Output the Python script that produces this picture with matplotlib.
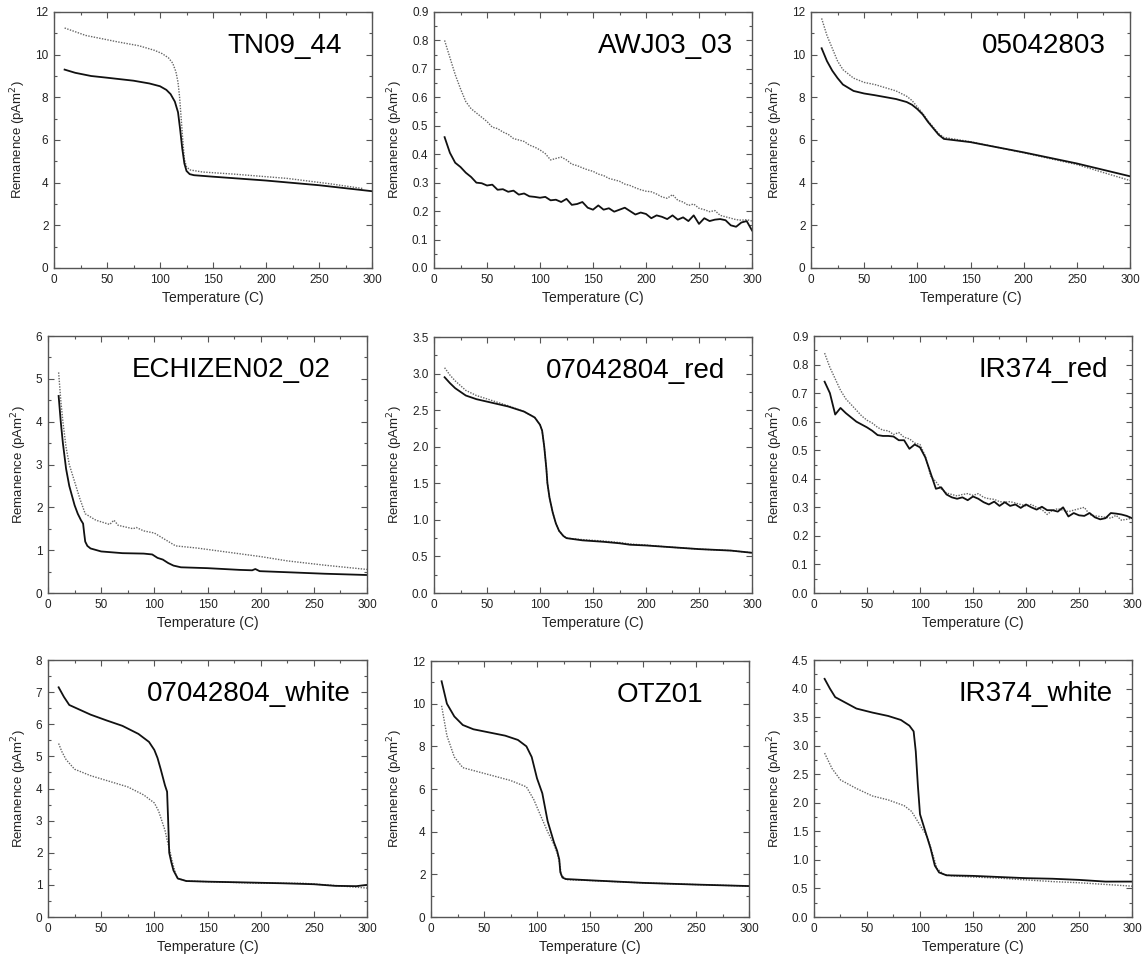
"""Remanence vs temperature curves for nine samples (3x3 grid)."""
import numpy as np
import matplotlib
matplotlib.use("Agg")
import matplotlib.pyplot as plt
from matplotlib.ticker import MultipleLocator

plt.rcParams["font.family"] = ["Liberation Sans", "DejaVu Sans"]

# ---------------- data: temperature (C) and remanence (pAm^2) ----------------
TN09_T_S = [10, 20, 35, 50, 75, 90, 100, 106, 110, 114, 117, 119, 121, 123, 125, 128, 132, 150, 200, 250, 300]
TN09_S = [9.3, 9.15, 9.0, 8.92, 8.78, 8.65, 8.52, 8.35, 8.15, 7.8, 7.3, 6.5, 5.6, 4.9, 4.55, 4.4, 4.35, 4.28, 4.1, 3.88, 3.6]
TN09_T_D = [10, 30, 60, 80, 95, 102, 108, 112, 115, 117, 118.5, 120, 121.5, 123, 125, 128, 140, 170, 220, 260, 292]
TN09_D = [11.25, 10.9, 10.6, 10.42, 10.2, 10.05, 9.85, 9.6, 9.2, 8.7, 8.0, 7.0, 6.0, 5.1, 4.75, 4.6, 4.5, 4.4, 4.2, 3.95, 3.72]

AWJ_T = list(range(10, 301, 5))
AWJ_S = [0.46, 0.405, 0.37, 0.355, 0.335, 0.32, 0.30, 0.298, 0.29, 0.293, 0.275, 0.277, 0.268,
         0.272, 0.258, 0.262, 0.252, 0.25, 0.247, 0.25, 0.238, 0.24, 0.232, 0.243, 0.222, 0.225,
         0.232, 0.212, 0.205, 0.22, 0.205, 0.21, 0.198, 0.205, 0.212, 0.2, 0.188, 0.195, 0.19,
         0.175, 0.185, 0.18, 0.172, 0.185, 0.17, 0.178, 0.165, 0.185, 0.155, 0.175, 0.165, 0.17,
         0.172, 0.168, 0.15, 0.145, 0.16, 0.165, 0.132]
AWJ_D = [0.80, 0.74, 0.68, 0.63, 0.585, 0.56, 0.545, 0.53, 0.515, 0.495, 0.49, 0.478, 0.47,
         0.455, 0.45, 0.445, 0.432, 0.425, 0.415, 0.402, 0.38, 0.385, 0.39, 0.38, 0.365, 0.36,
         0.352, 0.345, 0.34, 0.33, 0.325, 0.315, 0.31, 0.305, 0.295, 0.29, 0.282, 0.275, 0.27,
         0.268, 0.26, 0.25, 0.245, 0.258, 0.238, 0.232, 0.22, 0.225, 0.21, 0.205, 0.198, 0.202,
         0.185, 0.18, 0.175, 0.17, 0.168, 0.17, 0.165]

S0504_T = [10, 15, 20, 25, 30, 40, 50, 60, 80, 90, 95, 100, 105, 110, 115, 120, 125, 150, 200, 250, 300]
S0504_S = [10.3, 9.7, 9.25, 8.9, 8.6, 8.3, 8.18, 8.1, 7.92, 7.78, 7.65, 7.45, 7.2, 6.85, 6.55, 6.25, 6.05, 5.9, 5.42, 4.9, 4.3]
S0504_D = [11.7, 10.9, 10.3, 9.7, 9.3, 8.9, 8.7, 8.6, 8.3, 8.05, 7.85, 7.55, 7.25, 6.9, 6.6, 6.3, 6.12, 5.92, 5.4, 4.85, 4.1]

ECH_T_S = [10, 12, 14, 17, 20, 25, 28, 31, 33, 34, 35, 37, 40, 50, 70, 90, 98, 103, 108, 113, 118, 125, 150, 180, 192, 195, 199, 230, 260, 300]
ECH_S = [4.6, 4.0, 3.5, 2.9, 2.5, 2.05, 1.85, 1.7, 1.62, 1.4, 1.2, 1.1, 1.04, 0.97, 0.93, 0.92, 0.9, 0.82, 0.78, 0.7, 0.64, 0.6, 0.58, 0.54, 0.53, 0.56, 0.51, 0.48, 0.45, 0.42]
ECH_T_D = [10, 12, 14, 17, 20, 25, 30, 35, 45, 58, 62, 66, 80, 83, 90, 100, 110, 120, 140, 170, 200, 225, 260, 300]
ECH_D = [5.15, 4.5, 4.0, 3.4, 3.0, 2.6, 2.2, 1.85, 1.7, 1.6, 1.7, 1.58, 1.5, 1.53, 1.45, 1.4, 1.25, 1.1, 1.05, 0.95, 0.85, 0.75, 0.65, 0.55]

R0704_T = [10, 15, 20, 30, 40, 55, 70, 85, 95, 100, 102, 104, 106, 107, 109, 112, 115, 118, 122, 125, 140, 160, 175, 185, 200, 220, 250, 280, 300]
R0704_S = [2.95, 2.87, 2.8, 2.7, 2.65, 2.6, 2.55, 2.48, 2.4, 2.3, 2.22, 2.0, 1.7, 1.5, 1.3, 1.1, 0.95, 0.85, 0.78, 0.75, 0.72, 0.7, 0.68, 0.66, 0.65, 0.63, 0.6, 0.58, 0.55]
R0704_D = [3.08, 2.98, 2.9, 2.77, 2.7, 2.63, 2.56, 2.48, 2.4, 2.3, 2.22, 2.0, 1.7, 1.5, 1.3, 1.1, 0.95, 0.85, 0.78, 0.75, 0.73, 0.71, 0.69, 0.67, 0.655, 0.63, 0.6, 0.58, 0.55]

IRR_T = list(range(10, 301, 5))
IRR_S = [0.74, 0.70, 0.625, 0.648, 0.63, 0.615, 0.60, 0.59, 0.58, 0.568, 0.553, 0.55, 0.55,
         0.548, 0.535, 0.535, 0.505, 0.52, 0.51, 0.475, 0.42, 0.365, 0.37, 0.345, 0.335, 0.33,
         0.335, 0.325, 0.338, 0.33, 0.318, 0.31, 0.32, 0.305, 0.318, 0.305, 0.31, 0.298, 0.31,
         0.30, 0.292, 0.302, 0.29, 0.29, 0.285, 0.30, 0.268, 0.28, 0.272, 0.27, 0.28, 0.265,
         0.258, 0.262, 0.28, 0.278, 0.275, 0.27, 0.262]
IRR_D = [0.84, 0.79, 0.75, 0.71, 0.68, 0.66, 0.64, 0.62, 0.605, 0.595, 0.58, 0.57, 0.568,
         0.555, 0.562, 0.545, 0.54, 0.525, 0.52, 0.48, 0.41, 0.39, 0.365, 0.35, 0.345, 0.34,
         0.345, 0.348, 0.342, 0.348, 0.335, 0.33, 0.328, 0.32, 0.318, 0.32, 0.315, 0.31, 0.305,
         0.31, 0.30, 0.292, 0.275, 0.29, 0.295, 0.29, 0.285, 0.29, 0.295, 0.30, 0.275, 0.27,
         0.268, 0.265, 0.262, 0.272, 0.255, 0.258, 0.262]

W0704_T_S = [10, 15, 20, 30, 40, 55, 70, 85, 95, 100, 103, 106, 108, 110, 112, 113, 114, 116, 118, 122, 130, 150, 180, 220, 250, 270, 290, 300]
W0704_S = [7.15, 6.85, 6.6, 6.45, 6.3, 6.12, 5.95, 5.7, 5.45, 5.2, 4.95, 4.6, 4.35, 4.1, 3.9, 3.0, 2.0, 1.7, 1.45, 1.2, 1.12, 1.1, 1.08, 1.05, 1.02, 0.97, 0.96, 1.0]
W0704_T_D = [10, 13, 17, 25, 40, 55, 75, 90, 100, 104, 107, 110, 112, 115, 117, 120, 122, 130, 170, 200, 240, 270, 300]
W0704_D = [5.4, 5.15, 4.9, 4.6, 4.4, 4.25, 4.05, 3.8, 3.55, 3.3, 3.0, 2.7, 2.4, 2.0, 1.7, 1.35, 1.2, 1.12, 1.08, 1.05, 1.05, 0.98, 0.9]

OTZ_T_S = [10, 15, 22, 30, 40, 55, 70, 82, 90, 95, 100, 105, 110, 113, 116, 119, 121, 122, 124, 127, 150, 200, 250, 300]
OTZ_S = [11.05, 10.0, 9.4, 9.0, 8.8, 8.65, 8.5, 8.3, 8.0, 7.5, 6.5, 5.8, 4.5, 4.0, 3.5, 3.1, 2.7, 2.1, 1.85, 1.78, 1.72, 1.6, 1.52, 1.45]
OTZ_T_D = [10, 15, 22, 30, 45, 60, 75, 90, 97, 103, 110, 113, 116, 119, 121, 123, 128, 150, 200, 250, 300]
OTZ_D = [9.9, 8.5, 7.5, 7.0, 6.8, 6.6, 6.4, 6.1, 5.5, 4.8, 4.0, 3.7, 3.4, 3.0, 2.6, 1.95, 1.75, 1.71, 1.6, 1.52, 1.45]

IRW_T_S = [10, 15, 20, 30, 40, 55, 70, 82, 90, 94, 96, 98, 100, 105, 110, 114, 118, 125, 150, 175, 200, 225, 250, 275, 300]
IRW_S = [4.17, 4.0, 3.85, 3.75, 3.65, 3.58, 3.52, 3.45, 3.35, 3.25, 2.9, 2.3, 1.8, 1.5, 1.2, 0.9, 0.78, 0.73, 0.72, 0.7, 0.68, 0.67, 0.65, 0.62, 0.62]
IRW_T_D = [10, 17, 25, 40, 55, 70, 85, 92, 97, 102, 107, 112, 116, 122, 130, 150, 175, 200, 225, 250, 275, 300]
IRW_D = [2.87, 2.6, 2.4, 2.25, 2.12, 2.05, 1.95, 1.85, 1.7, 1.55, 1.4, 1.1, 0.85, 0.75, 0.72, 0.7, 0.68, 0.65, 0.62, 0.6, 0.57, 0.54]

NAMES = ["TN09_44", "AWJ03_03", "05042803",
         "ECHIZEN02_02", "07042804_red", "IR374_red",
         "07042804_white", "OTZ01", "IR374_white"]
CURVES = [(TN09_T_S, TN09_S, TN09_T_D, TN09_D),
          (AWJ_T, AWJ_S, AWJ_T, AWJ_D),
          (S0504_T, S0504_S, S0504_T, S0504_D),
          (ECH_T_S, ECH_S, ECH_T_D, ECH_D),
          (R0704_T, R0704_S, R0704_T, R0704_D),
          (IRR_T, IRR_S, IRR_T, IRR_D),
          (W0704_T_S, W0704_S, W0704_T_D, W0704_D),
          (OTZ_T_S, OTZ_S, OTZ_T_D, OTZ_D),
          (IRW_T_S, IRW_S, IRW_T_D, IRW_D)]
YMAX = [12, 0.9, 12, 6, 3.5, 0.9, 8, 12, 4.5]
YSTEP = [2, 0.1, 2, 1, 0.5, 0.1, 1, 2, 0.5]
YFMT = ["{:.0f}", "{:.1f}", "{:.0f}", "{:.0f}", "{:.1f}", "{:.1f}", "{:.0f}", "{:.0f}", "{:.1f}"]

# ---------------- layout (pixel boxes: left, right, top, bottom) ----------------
W, H = 1148, 963
BOXES = [(54, 372, 12, 268), (434, 752, 12, 268), (811, 1130, 12, 268),
         (48, 367, 336, 593), (434, 752, 337, 593), (814, 1132, 336, 593),
         (48, 367, 660, 917), (431, 749, 661, 917), (814, 1132, 660, 917)]
LABEL_X = [0.905, 0.94, 0.925, 0.885, 0.915, 0.925, 0.95, 0.855, 0.94]

fig = plt.figure(figsize=(W / 100, H / 100), dpi=100)
FRAME = "#555555"

for i, name in enumerate(NAMES):
    l, r, t, b = BOXES[i]
    ax = fig.add_axes([l / W, 1 - b / H, (r - l) / W, (b - t) / H])
    ts, ys, td, yd = CURVES[i]
    ax.plot(td, yd, color="0.4", lw=1.0, ls=(0, (1, 1)))
    ax.plot(ts, ys, color="#111111", lw=1.3)
    ax.set_xlim(0, 300)
    ax.set_ylim(0, YMAX[i])
    ax.xaxis.set_major_locator(MultipleLocator(50))
    ax.xaxis.set_minor_locator(MultipleLocator(25))
    ax.yaxis.set_major_locator(MultipleLocator(YSTEP[i]))
    ax.yaxis.set_minor_locator(MultipleLocator(YSTEP[i] / 2))
    fmt = YFMT[i]
    ax.yaxis.set_major_formatter(matplotlib.ticker.FuncFormatter(lambda v, p, f=fmt: f.format(v)))
    ax.tick_params(which="both", direction="in", top=True, right=True,
                   color=FRAME, labelsize=8.5, labelcolor="#222222", width=0.8)
    ax.tick_params(which="major", length=4.5, pad=4)
    ax.tick_params(which="minor", length=2.5)
    for s in ax.spines.values():
        s.set_color(FRAME)
        s.set_linewidth(1.0)
    ax.set_xlabel("Temperature (C)", fontsize=10, color="#222222", labelpad=4)
    ax.set_ylabel("Remanence (pAm$^2$)", fontsize=9.5, color="#222222", labelpad=5)
    ax.text(LABEL_X[i], 0.868, name, transform=ax.transAxes, ha="right", va="center",
            fontsize=20, color="black")

fig.savefig("out.png", dpi=100)
